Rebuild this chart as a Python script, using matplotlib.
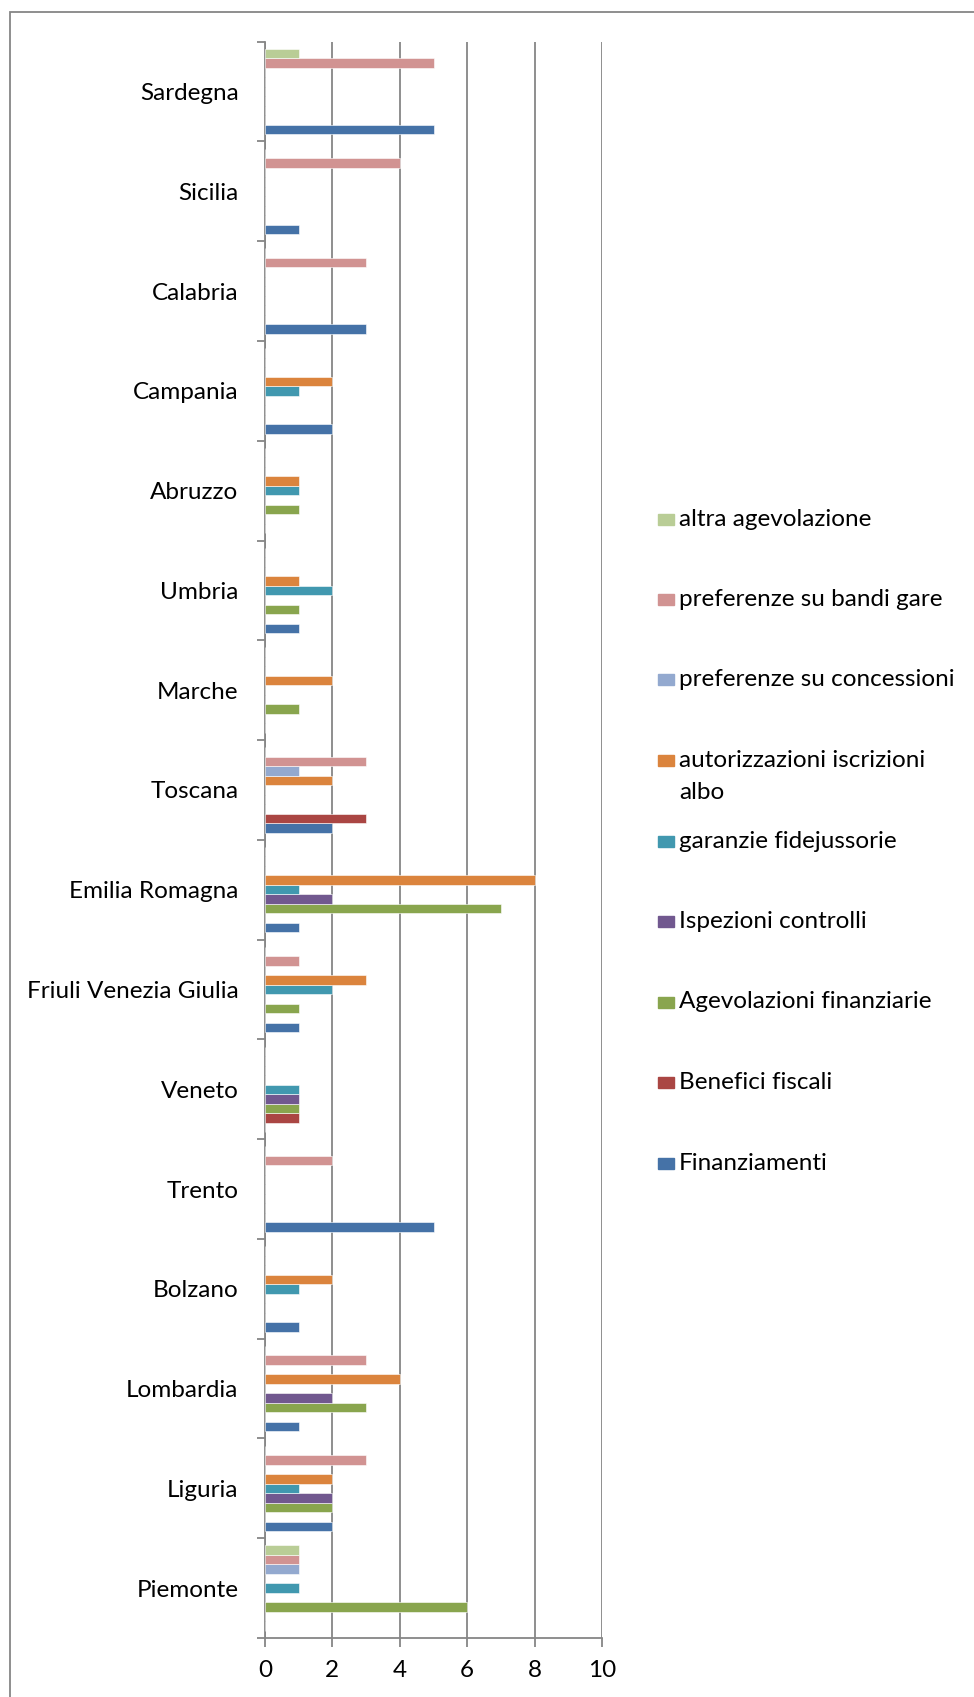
import numpy as np
from matplotlib import pyplot as plt
from matplotlib.patches import Rectangle

# regions, bottom to top
regions = ['Piemonte', 'Liguria', 'Lombardia', 'Bolzano', 'Trento', 'Veneto',
           'Friuli Venezia Giulia', 'Emilia Romagna', 'Toscana', 'Marche',
           'Umbria', 'Abruzzo', 'Campania', 'Calabria', 'Sicilia', 'Sardegna']

finanziamenti = [0, 2, 1, 1, 5, 0, 1, 1, 2, 0, 1, 0, 2, 3, 1, 5]
benefici_fiscali = [0, 0, 0, 0, 0, 1, 0, 0, 3, 0, 0, 0, 0, 0, 0, 0]
agevolazioni_fin = [6, 2, 3, 0, 0, 1, 1, 7, 0, 1, 1, 1, 0, 0, 0, 0]
ispezioni = [0, 2, 2, 0, 0, 1, 0, 2, 0, 0, 0, 0, 0, 0, 0, 0]
garanzie = [1, 1, 0, 1, 0, 1, 2, 1, 0, 0, 2, 1, 1, 0, 0, 0]
autorizzazioni = [0, 2, 4, 2, 0, 0, 3, 8, 2, 2, 1, 1, 2, 0, 0, 0]
pref_concessioni = [1, 0, 0, 0, 0, 0, 0, 0, 1, 0, 0, 0, 0, 0, 0, 0]
pref_bandi = [1, 3, 3, 0, 2, 0, 1, 0, 3, 0, 0, 0, 0, 3, 4, 5]
altra = [1, 0, 0, 0, 0, 0, 0, 0, 0, 0, 0, 0, 0, 0, 0, 1]

series_names = ['Finanziamenti', 'Benefici fiscali', 'Agevolazioni finanziarie',
                'Ispezioni controlli', 'garanzie fidejussorie',
                'autorizzazioni iscrizioni\nalbo', 'preferenze su concessioni',
                'preferenze su bandi gare', 'altra agevolazione']
series_values = [finanziamenti, benefici_fiscali, agevolazioni_fin, ispezioni,
                 garanzie, autorizzazioni, pref_concessioni, pref_bandi, altra]
colors = ['#4572A7', '#AA4643', '#89A54E', '#71588F', '#4198AF',
          '#DB843D', '#93A9CF', '#D19392', '#B9CD96']

plt.rcParams['font.family'] = ['Lato', 'DejaVu Sans']
fs = 17.5
W, H = 974, 1697
fig = plt.figure(figsize=(W / 100, H / 100), dpi=100)
ax = fig.add_axes([265 / W, 1 - 1638 / H, (602 - 265) / W, (1638 - 41.7) / H])

grey = '#868686'
n = len(series_values)
h = 1 / 10.5
y = np.arange(len(regions))
for j, (vals, c) in enumerate(zip(series_values, colors)):
    ax.barh(y + (j - (n - 1) / 2) * h, vals, height=h, color=c,
            edgecolor='white', linewidth=0.4, zorder=3)

ax.set_xlim(0, 10)
ax.set_ylim(-0.5, len(regions) - 0.5)
ax.set_xticks(range(0, 11, 2))
ax.set_yticks(y)
ax.set_yticklabels(regions)
ax.set_yticks(np.arange(-0.5, len(regions), 1), minor=True)
ax.tick_params(axis='y', which='major', length=0, pad=19, labelsize=fs)
ax.tick_params(axis='y', which='minor', length=6, width=1.3, color=grey)
ax.tick_params(axis='x', length=6.5, width=1.3, color=grey, pad=9, labelsize=fs)
ax.grid(axis='x', color=grey, linewidth=1.3, zorder=0)
for s in ['top', 'right']:
    ax.spines[s].set_visible(False)
for s in ['left', 'bottom']:
    ax.spines[s].set_color(grey)
    ax.spines[s].set_linewidth(1.3)

# legend drawn by hand to keep Excel-like spacing
y0, step, line_h = 519, 80.5, 32
for k, j in enumerate(range(n - 1, -1, -1)):
    yc = y0 + k * step
    fig.add_artist(Rectangle((658 / W, 1 - (yc + 5.5) / H), 16 / W, 11 / H,
                             transform=fig.transFigure, color=colors[j]))
    for i, line in enumerate(series_names[j].split('\n')):
        fig.text(679 / W, 1 - (yc + i * line_h) / H, line, fontsize=fs,
                 va='center', ha='left')

# chart border
fig.add_artist(Rectangle((10 / W, -0.05), 1.2, 1.05 - 12 / H,
                         transform=fig.transFigure, fill=False,
                         edgecolor=grey, linewidth=1.3))

fig.savefig('out.png', dpi=100)
